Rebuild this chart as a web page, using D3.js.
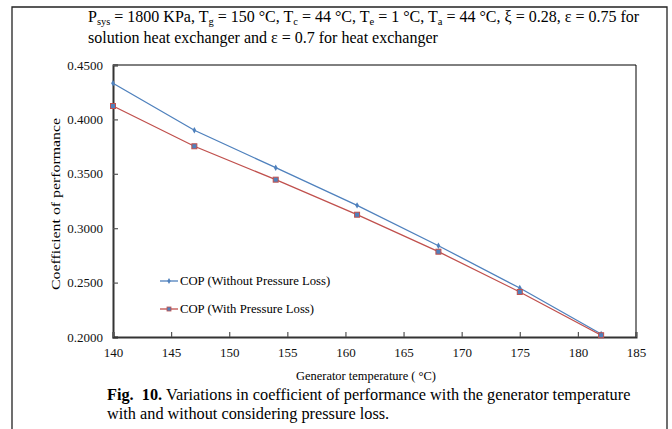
<!DOCTYPE html>
<html><head><meta charset="utf-8">
<script src="https://cdn.jsdelivr.net/npm/d3@7"></script>
<style>body{margin:0;background:#fff}svg{display:block}svg text{font-family:"Liberation Serif","Times New Roman",serif !important}</style>
</head><body><svg id="c" width="672" height="429" font-family="Liberation Serif"></svg>
<script>
const genTemp = [140, 147, 154, 161, 168, 175, 182];
const copNoLoss = [0.4332, 0.3900, 0.3556, 0.3210, 0.2839, 0.2450, 0.2028];
const copWithLoss = [0.4123, 0.3753, 0.3446, 0.3124, 0.2784, 0.2414, 0.2016];
const xTicks = [140, 145, 150, 155, 160, 165, 170, 175, 180, 185];
const yTicks = [0.20, 0.25, 0.30, 0.35, 0.40, 0.45];
const seriesNames = ["COP (Without Pressure Loss)", "COP (With Pressure Loss)"];
const colors = ["#4F81BD", "#C0504D"];

const svg = d3.select("#c");
const L = 113, R = 636, T = 65, B = 337;
const x = d3.scaleLinear().domain([140, 185]).range([L, R]);
const y = d3.scaleLinear().domain([0.20, 0.45]).range([B, T]);

svg.append("path").attr("d", `M12,429 V7 H667 V429`).attr("fill", "none").attr("stroke", "#222").attr("stroke-width", 1.3);

const hdr = svg.append("text").attr("x", 88).attr("y", 22).attr("font-size", 16);
const parts = [["P",0],["sys",1],[" = 1800 KPa, T",0],["g",1],[" = 150 °C, T",0],["c",1],[" = 44 °C, T",0],["e",1],[" = 1 °C, T",0],["a",1],[" = 44 °C, ξ = 0.28, ε = 0.75 for",0]];
let prevSub = false;
parts.forEach(([t, s]) => {
  const ts = hdr.append("tspan").text(t);
  if (s) { ts.attr("font-size", 10.5).attr("dy", 3); prevSub = true; }
  else if (prevSub) { ts.attr("dy", -3); prevSub = false; }
});
svg.append("text").attr("x", 88).attr("y", 43).attr("font-size", 16).text("solution heat exchanger and ε = 0.7 for heat exchanger");

svg.append("path").attr("d", `M${L},${T} H${R} V${B}`).attr("fill", "none").attr("stroke", "#000").attr("stroke-width", 1);

const yAxis = d3.axisLeft(y).tickValues(yTicks).tickSize(-5).tickPadding(10).tickFormat(d3.format(".4f"));
const gy = svg.append("g").attr("transform", `translate(${L},0)`).call(yAxis);
const xAxis = d3.axisBottom(x).tickValues(xTicks).tickSize(-5).tickPadding(11).tickFormat(d3.format("d"));
const gx = svg.append("g").attr("transform", `translate(0,${B})`).call(xAxis);
[gx, gy].forEach(g => {
  g.attr("font-family", "Liberation Serif");
  g.select(".domain").attr("stroke", "#333").attr("stroke-width", 2);
  g.selectAll(".tick line").attr("stroke", "#555").attr("stroke-width", 1.2);
  g.selectAll("text").attr("font-size", 13).attr("fill", "#111");
});

svg.append("text").attr("transform", `translate(60,204) rotate(-90)`).attr("text-anchor", "middle").attr("font-size", 13)
  .attr("textLength", 172).attr("lengthAdjust", "spacingAndGlyphs").text("Coefficient of performance");
svg.append("text").attr("x", 366).attr("y", 380).attr("text-anchor", "middle").attr("font-size", 12)
  .attr("textLength", 140).attr("lengthAdjust", "spacingAndGlyphs").text("Generator temperature ( °C)");

const cap = svg.append("text").attr("x", 107).attr("y", 400).attr("font-size", 16.3);
cap.append("tspan").attr("font-weight", "bold").text("Fig.\u00a0\u00a010.");
cap.append("tspan").text(" Variations in coefficient of performance with the generator temperature");
svg.append("text").attr("x", 107).attr("y", 419).attr("font-size", 16.3).text("with and without considering pressure loss.");

const line = d3.line().x((d, i) => x(genTemp[i])).y(d => y(d));
[copNoLoss, copWithLoss].forEach((vals, k) => {
  svg.append("path").attr("d", line(vals)).attr("fill", "none").attr("stroke", colors[k]).attr("stroke-width", 1.3);
});
svg.selectAll(".m0").data(copNoLoss).enter().append("path")
  .attr("d", d3.symbol().type(d3.symbolDiamond).size(12))
  .attr("transform", (d, i) => `translate(${x(genTemp[i])},${y(d)})`).attr("fill", colors[0]);
svg.selectAll(".m1").data(copWithLoss).enter().append("rect")
  .attr("x", (d, i) => x(genTemp[i]) - 2.5).attr("y", d => y(d) - 2.5).attr("width", 5).attr("height", 5)
  .attr("fill", "#4F81BD").attr("stroke", colors[1]).attr("stroke-width", 1);

const legY = [281, 309];
seriesNames.forEach((n, k) => {
  svg.append("line").attr("x1", 160).attr("x2", 178).attr("y1", legY[k]).attr("y2", legY[k]).attr("stroke", colors[k]).attr("stroke-width", 1.3);
  if (k === 0) svg.append("path").attr("d", d3.symbol().type(d3.symbolDiamond).size(10)).attr("transform", `translate(169,${legY[k]})`).attr("fill", colors[0]);
  else svg.append("rect").attr("x", 167).attr("y", legY[k]-2).attr("width", 4).attr("height", 4).attr("fill", "#4F81BD").attr("stroke", colors[1]).attr("stroke-width", 0.8);
  svg.append("text").attr("x", 180).attr("y", legY[k] + 4).attr("font-size", 12.7).text(n);
});
</script></body></html>
